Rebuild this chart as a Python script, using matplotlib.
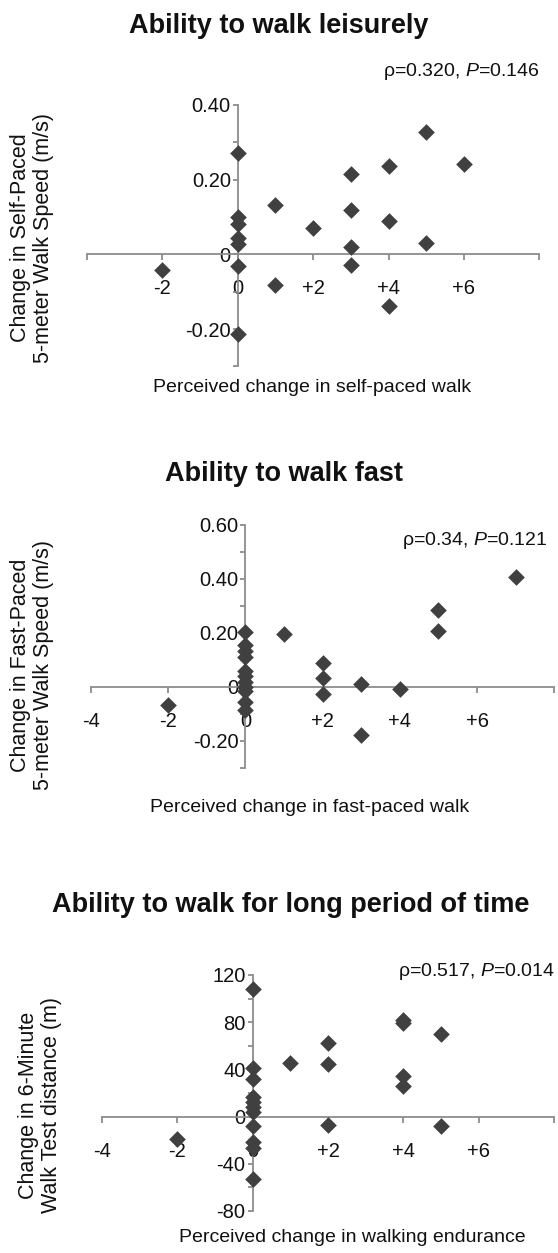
import matplotlib.pyplot as plt
import numpy as np

plt.rcParams["font.family"] = ["Liberation Sans", "DejaVu Sans"]
plt.rcParams["mathtext.fontset"] = "custom"
plt.rcParams["mathtext.rm"] = "Liberation Sans"
plt.rcParams["mathtext.it"] = "Liberation Sans:italic"

# --- data ---
self_x = [-2, 0, 0, 0, 0, 0, 0, 0, 1, 1, 2, 3, 3, 3, 3, 4, 4, 4, 5, 5, 6]
self_y = [-0.042, 0.272, 0.100, 0.082, 0.045, 0.029, -0.032, -0.212, 0.133, -0.083,
          0.070, 0.216, 0.119, 0.020, -0.029, 0.237, 0.090, -0.137, 0.327, 0.030, 0.241]

fast_x = [-2, 0, 0, 0, 0, 0, 0, 0, 0, 0, 0, 0, 1, 2, 2, 2, 3, 3, 4, 5, 5, 7]
fast_y = [-0.067, 0.204, 0.155, 0.135, 0.110, 0.060, 0.040, 0.020, 0.000, -0.015, -0.055,
          -0.087, 0.198, 0.090, 0.035, -0.025, 0.012, -0.179, -0.009, 0.285, 0.207, 0.408]

endur_x = [-2, 0, 0, 0, 0, 0, 0, 0, 0, 0, 0, 0, 1, 2, 2, 2, 4, 4, 4, 4, 5, 5]
endur_y = [-19, 108, 41, 32, 17, 12, 8, 3.5, -8, -21.5, -27, -53, 45.5, 62.6, 45, -7.5,
           82, 79.4, 34.5, 25.7, 70.3, -8]

x_ticks = [-4, -2, 0, 2, 4, 6, 8]
self_xticklabels = ["", "-2", "0", "+2", "+4", "+6", ""]
other_xticklabels = ["-4", "-2", "0", "+2", "+4", "+6", ""]

self_yticks = [-0.2, 0.0, 0.2, 0.4]
self_yticklabels = ["-0.20", "0", "0.20", "0.40"]
fast_yticks = [-0.2, 0.0, 0.2, 0.4, 0.6]
fast_yticklabels = ["-0.20", "0", "0.20", "0.40", "0.60"]
endur_yticks = [-80, -40, 0, 40, 80, 120]
endur_yticklabels = ["-80", "-40", "0", "40", "80", "120"]

titles = ["Ability to walk leisurely", "Ability to walk fast",
          "Ability to walk for long period of time"]
stats = [r"ρ=0.320, $P$=0.146", r"ρ=0.34, $P$=0.121", r"ρ=0.517, $P$=0.014"]
xlabels = ["Perceived change in self-paced walk", "Perceived change in fast-paced walk",
           "Perceived change in walking endurance"]
ylabels = ["Change in Self-Paced\n5-meter Walk Speed (m/s)",
           "Change in Fast-Paced\n5-meter Walk Speed (m/s)",
           "Change in 6-Minute\nWalk Test distance (m)"]

W, H = 558, 1253
AXIS = "#8c8c8c"
MARK = "#404040"
TXT = "#111111"

fig = plt.figure(figsize=(W / 100, H / 100), dpi=100)


def fx(x):
    return x / W


def fy(y):
    return 1 - y / H


def add_panel(box, xs, ys, ylim, yticks, yticklabels, yminor, xticklabels):
    left, right, top, bottom = box
    ax = fig.add_axes([fx(left), fy(bottom), (right - left) / W, (bottom - top) / H])
    ax.scatter(xs, ys, marker="D", s=72, color=MARK, zorder=3, clip_on=False, linewidths=0)
    ax.set_xlim(-4, 8)
    ax.set_ylim(*ylim)
    for side in ["top", "right"]:
        ax.spines[side].set_visible(False)
    ax.spines["left"].set_position(("data", 0))
    ax.spines["bottom"].set_position(("data", 0))
    for side in ["left", "bottom"]:
        ax.spines[side].set_color(AXIS)
        ax.spines[side].set_linewidth(1.3)
    ax.set_xticks(x_ticks)
    ax.set_xticklabels(xticklabels)
    ax.set_yticks(yticks)
    ax.set_yticklabels(yticklabels)
    ax.set_yticks(np.arange(ylim[0], ylim[1] + yminor / 2, yminor), minor=True)
    ax.tick_params(axis="x", direction="out", length=4.5, width=1.3, color=AXIS,
                   pad=13.5, labelsize=14.5, labelcolor=TXT)
    ax.tick_params(axis="y", which="both", direction="out", length=3.5, width=1.3,
                   color=AXIS, pad=1.5, labelsize=14.5, labelcolor=TXT)
    ax.patch.set_visible(False)
    return ax


add_panel((86.9, 539.3, 105, 366.5), self_x, self_y, (-0.3, 0.4),
          self_yticks, self_yticklabels, 0.1, self_xticklabels)
add_panel((91, 554.3, 525, 768), fast_x, fast_y, (-0.3, 0.6),
          fast_yticks, fast_yticklabels, 0.1, other_xticklabels)
add_panel((101.7, 554.3, 975, 1211), endur_x, endur_y, (-80, 120),
          endur_yticks, endur_yticklabels, 20, other_xticklabels)

title_pos = [(279, 33), (284, 481), (291, 912)]
stat_pos = [(540, 72), (547, 540), (555, 972)]
xlabel_pos = [(312, 388), (310, 807), (352, 1238)]
ylabel_pos = [(32, 238), (32, 665), (40, 1105)]

for i in range(3):
    fig.text(fx(title_pos[i][0]), fy(title_pos[i][1]), titles[i], ha="center",
             va="baseline", fontsize=19.5, fontweight="bold", color=TXT)
    fig.text(fx(stat_pos[i][0]), fy(stat_pos[i][1]), stats[i], ha="right",
             va="center", fontsize=14, color=TXT)
    fig.text(fx(xlabel_pos[i][0]), fy(xlabel_pos[i][1]), xlabels[i], ha="center",
             va="center", fontsize=14, color=TXT)
    fig.text(fx(ylabel_pos[i][0]), fy(ylabel_pos[i][1]), ylabels[i], ha="center",
             va="center", rotation=90, fontsize=15.5, color=TXT, multialignment="center",
             linespacing=1.1)

fig.savefig("out.png", dpi=100)
